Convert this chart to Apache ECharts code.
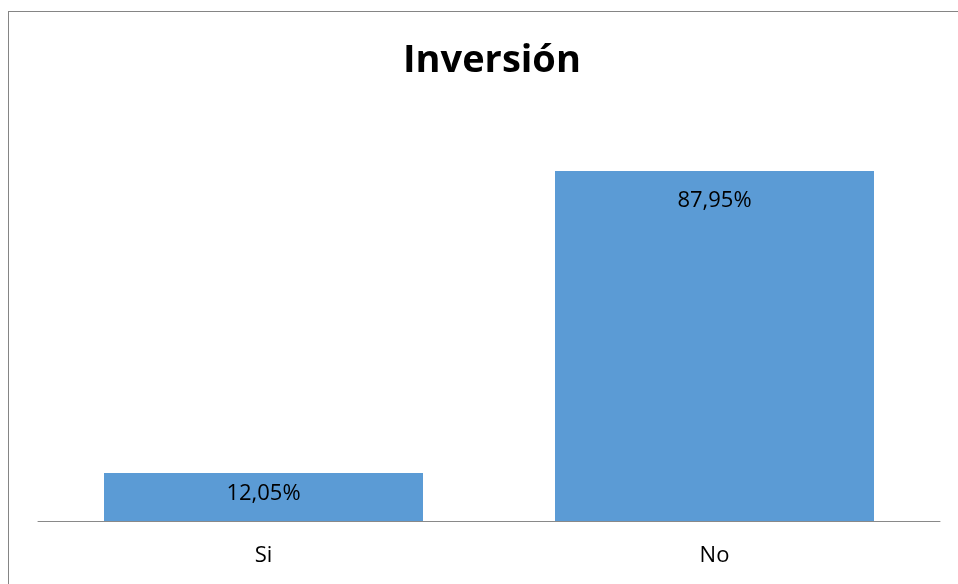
<!DOCTYPE html>
<html>
<head>
<meta charset="utf-8">
<script src="https://cdn.jsdelivr.net/npm/echarts@6/dist/echarts.min.js"></script>
<style>
  html, body { margin: 0; padding: 0; background: #fff; }
  #frame { position: absolute; left: 8px; top: 11px; width: 1000px; height: 1000px; border: 1px solid #858585; border-width: 1px 0 0 1px; }
  #chart { position: absolute; left: 0; top: 0; width: 958px; height: 584px; }
</style>
</head>
<body>
<div id="frame"></div>
<div id="chart"></div>
<script>
const titleText = "Inversión";
const categories = ["Si", "No"];
const values = [12.05, 87.95];

// label distance from bar top, per bar (short bar gets a tighter gap)
const labelGap = [10, 19];

const chart = echarts.init(document.getElementById("chart"));
chart.setOption({
  backgroundColor: "transparent",
  animation: false,
  title: {
    text: titleText,
    left: 398,
    top: 37,
    textStyle: { fontFamily: "Open Sans", fontWeight: "bold", fontSize: 38, color: "#000" }
  },
  grid: { left: 38, right: 18, top: 123, bottom: 63 },
  xAxis: {
    type: "category",
    data: categories,
    axisLine: { lineStyle: { color: "#898989", width: 1 } },
    axisTick: { show: false },
    axisLabel: { color: "#000", fontFamily: "Open Sans", fontSize: 22, margin: 24 }
  },
  yAxis: {
    type: "value",
    min: 0,
    max: 100,
    show: false,
    splitLine: { show: false }
  },
  series: [{
    type: "bar",
    barWidth: 319,
    itemStyle: { color: "#5B9BD5" },
    data: values.map((v, i) => ({
      value: v,
      label: { distance: labelGap[i] }
    })),
    label: {
      show: true,
      position: "insideTop",
      color: "#000",
      fontFamily: "Open Sans",
      fontSize: 22,
      formatter: p => p.value.toFixed(2).replace(".", ",") + "%"
    }
  }]
});
</script>
</body>
</html>
